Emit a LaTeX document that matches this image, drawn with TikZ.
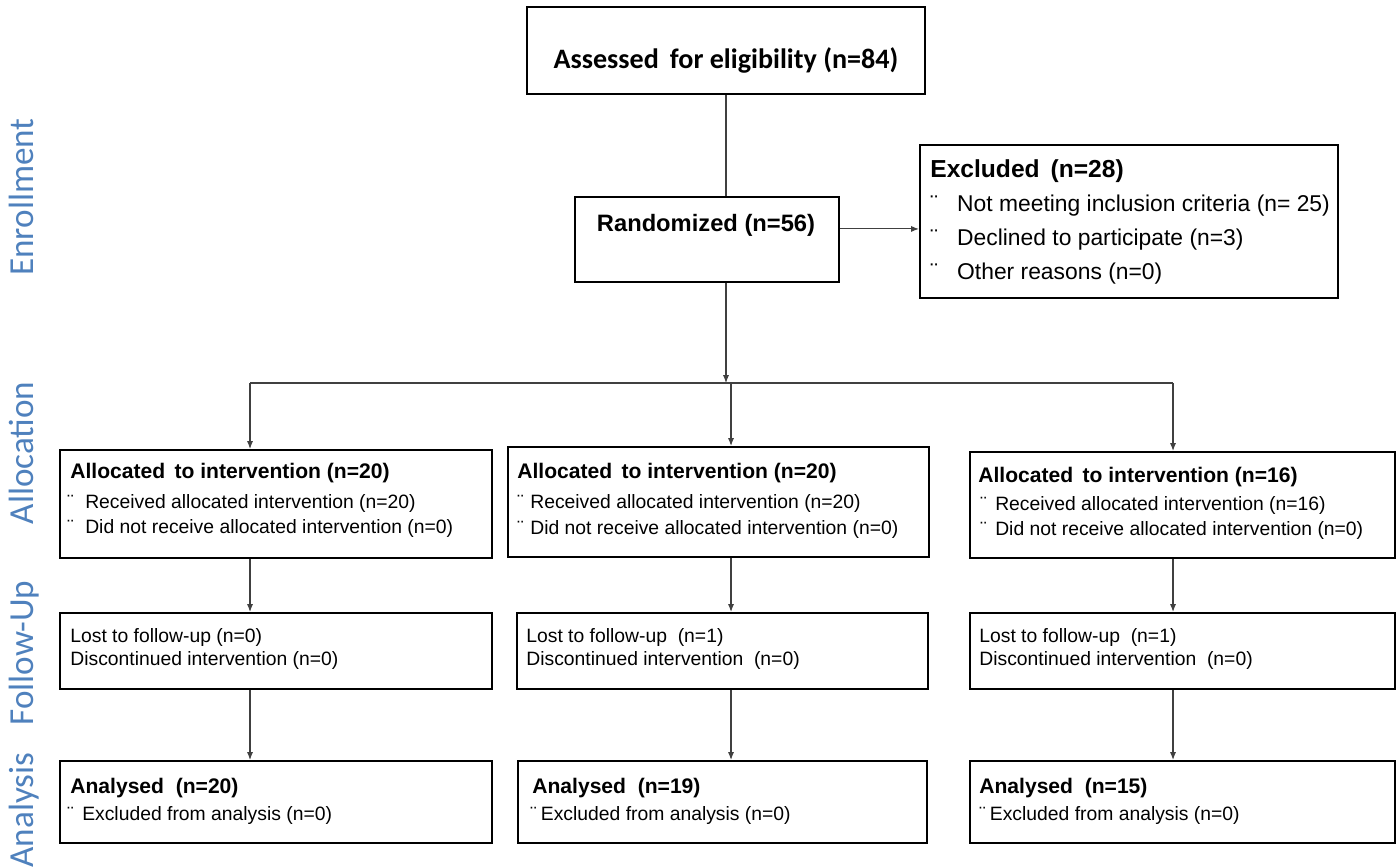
\documentclass[tikz,border=0pt]{standalone}
\usepackage{fontspec}
\setmainfont{Liberation Sans}
\newfontfamily\calibri{Carlito}
\usetikzlibrary{arrows.meta}
\definecolor{phaseblue}{HTML}{4F81BD}
\newcommand\bul[1]{\makebox[#1][l]{¨}}
\tikzset{
  box/.style 2 args={draw, line width=1.2pt, minimum width=#1*0.02cm, minimum height=#2*0.02cm, inner sep=0pt},
  txt/.style={font=\fontsize{11}{13}\selectfont, inner sep=0pt, anchor=base west},
  head/.style={font=\bfseries\fontsize{12}{14}\selectfont, inner sep=0pt, anchor=base west},
  exc/.style={font=\fontsize{13}{15}\selectfont, inner sep=0pt, anchor=base west},
  phase/.style={font=\calibri\fontsize{20}{24}\selectfont, text=phaseblue, rotate=90, anchor=base, inner sep=0pt},
  line/.style={draw=black!75, line width=0.6pt},
  arr/.style={line, -{Latex[length=4.5pt,width=3.5pt]}}
}
\begin{document}
\begin{tikzpicture}[x=0.02cm, y=-0.02cm]
  \useasboundingbox (0,0) rectangle (1397,868);

  %%%%% PHASES %%%%%
  \node[phase] (enrol) at (33,197) {Enrollment};
  \node[phase] (alloc) at (33,453) {Allocation};
  \node[phase] (follow) at (33,653) {Follow-Up};
  \node[phase] (analys) at (33,810) {Analysis};

  %%%%% ENROLLMENT %%%%%
  \node[box={398}{87}] (assess) at (726,50.5) {};
  \node[font=\calibri\bfseries\fontsize{16}{18}\selectfont, inner sep=0pt, anchor=base] (assesst) at (726,69) {Assessed\, for eligibility (n=84)};

  \node[box={264}{85}] (rand) at (707,239.5) {};
  \node[font=\bfseries\fontsize{13.5}{16}\selectfont, inner sep=0pt, anchor=base] (randt) at (706,232) {Randomized (n=56)};

  \node[box={418}{153}] (excl) at (1129,221.5) {};
  \node[font=\bfseries\fontsize{14}{16}\selectfont, inner sep=0pt, anchor=base west] (exclh) at (930,178) {Excluded\, (n=28)};
  \node[exc] (excl1) at (930,212) {\bul{15.3pt}Not meeting inclusion criteria (n= 25)};
  \node[exc] (excl2) at (930,246) {\bul{15.3pt}Declined to participate (n=3)};
  \node[exc] (excl3) at (930,280) {\bul{15.3pt}Other reasons (n=0)};

  %%%%% ALLOCATION %%%%%
  \node[box={432}{108}] (a1) at (276,504) {};
  \node[head] (a1h) at (70,478) {Allocated\, to intervention (n=20)};
  \node[txt] (a1r) at (67,508) {\bul{10.2pt}Received allocated intervention (n=20)};
  \node[txt] (a1d) at (67,533) {\bul{10.2pt}Did not receive allocated intervention (n=0)};

  \node[box={421}{110}] (a2) at (718.5,502) {};
  \node[head] (a2h) at (517,478) {Allocated\, to intervention (n=20)};
  \node[txt] (a2r) at (517,508) {\bul{7.4pt}Received allocated intervention (n=20)};
  \node[txt] (a2d) at (517,534) {\bul{7.4pt}Did not receive allocated intervention (n=0)};

  \node[box={425}{106}] (a3) at (1182.5,505) {};
  \node[head] (a3h) at (978,482) {Allocated\, to intervention (n=16)};
  \node[txt] (a3r) at (980,510) {\bul{8.5pt}Received allocated intervention (n=16)};
  \node[txt] (a3d) at (980,535) {\bul{8.5pt}Did not receive allocated intervention (n=0)};

  %%%%% FOLLOW-UP %%%%%
  \node[box={432}{76}] (f1) at (276,651) {};
  \node[txt] (f1l) at (70,642) {Lost to follow-up (n=0)};
  \node[txt] (f1d) at (70,665) {Discontinued intervention (n=0)};

  \node[box={411}{76}] (f2) at (722.5,651) {};
  \node[txt] (f2l) at (526,642) {Lost to follow-up\ \ (n=1)};
  \node[txt] (f2d) at (526,665) {Discontinued intervention\ \ (n=0)};

  \node[box={425}{76}] (f3) at (1182.5,651) {};
  \node[txt] (f3l) at (979,642) {Lost to follow-up\ \ (n=1)};
  \node[txt] (f3d) at (979,665) {Discontinued intervention\ \ (n=0)};

  %%%%% ANALYSIS %%%%%
  \node[box={432}{82}] (n1) at (276,802) {};
  \node[head] (n1h) at (70,793) {Analysed\ \ (n=20)};
  \node[txt] (n1e) at (67,820) {\bul{8.5pt}Excluded from analysis (n=0)};

  \node[box={409}{82}] (n2) at (722.5,802) {};
  \node[head] (n2h) at (532,793) {Analysed\ \ (n=19)};
  \node[txt] (n2e) at (530,820) {\bul{6pt}Excluded from analysis (n=0)};

  \node[box={425}{82}] (n3) at (1182.5,802) {};
  \node[head] (n3h) at (979,793) {Analysed\ \ (n=15)};
  \node[txt] (n3e) at (979,820) {\bul{6pt}Excluded from analysis (n=0)};

  %%%%% CONNECTORS %%%%%
  \coordinate (split) at (726,383);
  \coordinate (bl) at (250,383);
  \coordinate (bm) at (731,383);
  \coordinate (br) at (1173,383);
  \coordinate (rout) at ([yshift=6pt]rand.east);

  \draw[line] (assess.south) -- (assess.south |- rand.north);
  \draw[arr] (assess.south |- rand.south) -- (split);
  \draw[arr] (rout) -- (rout -| excl.west);
  \draw[line] (bl) -- (br);

  \draw[arr] (bl) -- (bl |- a1.north);
  \draw[arr] (bm) -- (bm |- a2.north);
  \draw[arr] (br) -- (br |- a3.north);

  \draw[arr] (bl |- a1.south) -- (bl |- f1.north);
  \draw[arr] (bm |- a2.south) -- (bm |- f2.north);
  \draw[arr] (br |- a3.south) -- (br |- f3.north);

  \draw[arr] (bl |- f1.south) -- (bl |- n1.north);
  \draw[arr] (bm |- f2.south) -- (bm |- n2.north);
  \draw[arr] (br |- f3.south) -- (br |- n3.north);
\end{tikzpicture}
\end{document}
